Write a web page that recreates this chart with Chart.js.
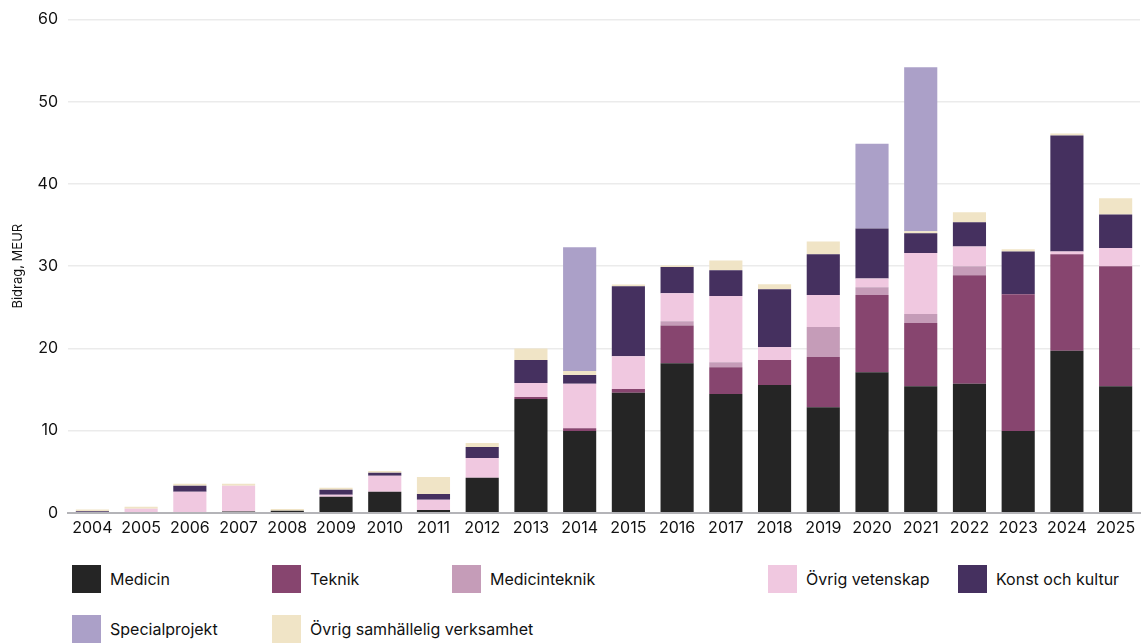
<!DOCTYPE html>
<html>
<head>
<meta charset="utf-8">
<script src="https://cdn.jsdelivr.net/npm/chart.js@4"></script>
<style>
  body { margin: 0; background: #fff; font-family: Inter, "Open Sans", sans-serif; }
  #wrap { position: relative; width: 1146px; height: 644px; }
  #chartBox { position: absolute; left: 0; top: 0; width: 1146px; height: 536px; }
  .leg { position: absolute; display: flex; align-items: center; font-size: 16px; color: #111; }
  .leg span.sw { display: inline-block; width: 29px; height: 28px; margin-right: 9px; }
</style>
</head>
<body>
<div id="wrap">
  <div id="chartBox"><canvas id="bidrag"></canvas></div>
  <div id="legend"></div>
</div>
<script>
const years = ['2004','2005','2006','2007','2008','2009','2010','2011','2012','2013','2014','2015',
  '2016','2017','2018','2019','2020','2021','2022','2023','2024','2025'];

// stacked values, MEUR
const medicin =        [0,   0,    0,    0.15, 0.25, 1.95, 2.55, 0.35, 4.25, 13.85, 9.95, 14.6, 18.2, 14.45, 15.55, 12.85, 17.1, 15.4, 15.7, 9.95, 19.7, 15.4];
const teknik =         [0,   0,    0,    0,    0,    0,    0,    0,    0,    0.25,  0.35, 0.45, 4.6,  3.25,  3.05,  6.1,   9.4,  7.7,  13.2, 16.65, 11.75, 14.6];
const medicinteknik =  [0,   0,    0,    0,    0,    0,    0,    0,    0,    0,     0,    0,    0.5,  0.6,   0,     3.65,  0.95, 1.1,  1.1,  0,    0,    0];
const ovrigVetenskap = [0,   0.5,  2.55, 3.13, 0,    0.25, 1.95, 1.23, 2.43, 1.7,   5.4,  4.0,  3.4,  8.06,  1.56,  3.9,   1.05, 7.4,  2.4,  0,    0.35, 2.2];
const konstKultur =    [0.2, 0,    0.73, 0,    0,    0.6,  0.36, 0.72, 1.32, 2.8,   1.06, 8.5,  3.2,  3.14,  7.04,  4.96,  6.1,  2.4,  2.95, 5.2,  14.1, 4.1];
const specialprojekt = [0,   0,    0,    0,    0,    0,    0,    0,    0,    0,     15.05,0,    0,    0,     0,     0,     10.3, 19.95,0,    0,    0,    0];
const ovrigSamhalle =  [0.2, 0.25, 0.24, 0.24, 0.2,  0.24, 0.24, 2.07, 0.5,  1.4,   0.49, 0.23, 0.2,  1.2,   0.6,   1.54,  0,    0.25, 1.21, 0.27, 0.25, 1.96];

const seriesNames = ['Medicin','Teknik','Medicinteknik','Övrig vetenskap','Konst och kultur','Specialprojekt','Övrig samhällelig verksamhet'];
const seriesData = [medicin, teknik, medicinteknik, ovrigVetenskap, konstKultur, specialprojekt, ovrigSamhalle];
const seriesColors = ['#252525','#87456f','#c59cb8','#f0c8e0','#45305f','#aba0c8','#f0e4c6'];
// stacking order bottom -> top (special projects sit on top of everything)
const stackOrder = [0, 1, 2, 3, 4, 6, 5];

const yTicks = [0, 10, 20, 30, 40, 50, 60];

const datasets = stackOrder.map(i => ({
  label: seriesNames[i],
  data: seriesData[i],
  backgroundColor: seriesColors[i],
  borderWidth: 0,
  barPercentage: 0.68,
  categoryPercentage: 1.0,
}));

const fontFamily = 'Inter, "Open Sans", sans-serif';

new Chart('bidrag', {
  type: 'bar',
  data: { labels: years, datasets: datasets },
  options: {
    responsive: true,
    maintainAspectRatio: false,
    animation: false,
    layout: { padding: { top: 10, right: 6, left: 10, bottom: 0 } },
    plugins: {
      legend: { display: false },
      tooltip: { enabled: false },
    },
    scales: {
      x: {
        stacked: true,
        grid: { display: false },
        border: { color: '#b4b4b8', width: 2 },
        ticks: { color: '#111', font: { family: fontFamily, size: 16 }, padding: -2, maxRotation: 0, autoSkip: false },
      },
      y: {
        stacked: true,
        min: 0,
        max: 60,
        afterBuildTicks: axis => { axis.ticks = yTicks.map(v => ({ value: v })); },
        grid: { color: '#ebebeb', lineWidth: 1.5, drawTicks: false },
        border: { display: false },
        ticks: { color: '#111', font: { family: fontFamily, size: 16 }, padding: 10 },
        title: {
          display: true,
          text: 'Bidrag, MEUR',
          color: '#111',
          font: { family: fontFamily, size: 13 },
          padding: { top: 0, bottom: 2 },
        },
      },
    },
  },
});

// HTML legend, two rows like the original
const legendPos = [[72,565],[272,565],[452,565],[768,565],[958,565],[72,615],[272,615]];
const legendEl = document.getElementById('legend');
seriesNames.forEach((name, i) => {
  const item = document.createElement('div');
  item.className = 'leg';
  item.style.left = legendPos[i][0] + 'px';
  item.style.top = legendPos[i][1] + 'px';
  item.innerHTML = '<span class="sw" style="background:' + seriesColors[i] + '"></span>' + name;
  legendEl.appendChild(item);
});
</script>
</body>
</html>
